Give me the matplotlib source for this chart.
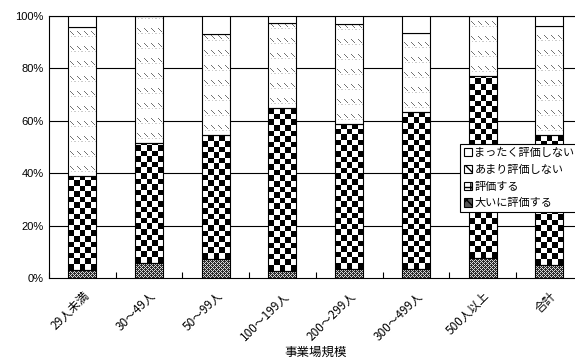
import numpy as np
import matplotlib
matplotlib.use("Agg")
import matplotlib.pyplot as plt
from matplotlib.patches import Patch

plt.rcParams['font.family'] = ['Noto Sans CJK JP', 'DejaVu Sans']

categories = ["29人未満", "30～49人", "50～99人", "100～199人", "200～299人",
              "300～499人", "500人以上", "合計"]
series_names = ["大いに評価する", "評価する", "あまり評価しない", "まったく評価しない"]
v_great = [2.9, 5.7, 7.3, 2.8, 3.4, 3.4, 7.6, 4.8]
v_eval = [36.2, 45.7, 47.3, 62.0, 55.3, 60.0, 69.5, 49.6]
v_little = [56.7, 48.6, 38.6, 32.6, 38.4, 30.0, 22.9, 41.8]
v_none = [4.2, 0.0, 6.8, 2.6, 2.9, 6.6, 0.0, 3.8]
yticks = [0, 20, 40, 60, 80, 100]
ytick_labels = ["0%", "20%", "40%", "60%", "80%", "100%"]

W, H = 575, 364
fig = plt.figure(figsize=(W / 100, H / 100), dpi=100)
ax_left, ax_bottom_px, ax_h_px = 49, 278, 262
n = len(categories)
cat_px = 66.7
ax_w_px = cat_px * n
ax = fig.add_axes([ax_left / W, (H - ax_bottom_px) / H, ax_w_px / W, ax_h_px / H])

x = np.arange(n)
bw = 0.42
px_per_x = cat_px
px_per_y = ax_h_px / 100.0


def texture(kind, wpx, hpx):
    wpx = max(int(np.ceil(wpx)), 1)
    hpx = max(int(np.ceil(hpx)), 1)
    yy, xx = np.indices((hpx, wpx))
    img = np.ones((hpx, wpx, 3))
    if kind == "checker":
        c = 5.6
        v = ((np.floor(xx / c) + np.floor(yy / c)) % 2).astype(float)
        img[:] = v[..., None]
    elif kind == "dash":
        tx = xx % 7
        ty = yy % 15
        dash = (tx + ty == 11) & (tx >= 2) & (tx <= 5)
        dots = (ty == 4) & (tx % 3 == 0)
        g = np.ones((hpx, wpx))
        g[dots] = 0.8
        g[dash] = 0.45
        img[:] = g[..., None]
    elif kind == "cross":
        g = np.full((hpx, wpx), 0.18)
        m = ((xx + yy) % 4 == 0) | ((xx - yy) % 4 == 0)
        g[m] = 0.85
        img[:] = g[..., None]
    return img


bottoms = np.zeros(n)
kinds = ["cross", "checker", "dash", None]
for vals, kind in zip([v_great, v_eval, v_little, v_none], kinds):
    vals = np.array(vals)
    fc = "white" if kind is None else "none"
    bars = ax.bar(x, vals, bw, bottom=bottoms, facecolor=fc, edgecolor="black",
                  linewidth=0.8, zorder=3)
    if kind is not None:
        for xi, b, v, p in zip(x, bottoms, vals, bars.patches):
            if v <= 0:
                continue
            x0, x1 = xi - bw / 2, xi + bw / 2
            img = texture(kind, bw * px_per_x, v * px_per_y)
            im = ax.imshow(img, extent=(x0, x1, b, b + v), origin="lower",
                           interpolation="nearest", aspect="auto", zorder=2)
            im.set_clip_path(p)
    bottoms = bottoms + vals

ax.set_xlim(-0.5, n - 0.5)
ax.set_ylim(0, 100)
ax.set_yticks(yticks)
ax.set_yticklabels(ytick_labels, family=["Liberation Sans"], fontsize=8)
ax.tick_params(axis="y", length=0, pad=4)
for y in yticks[1:]:
    ax.axhline(y, color="black", linewidth=0.8, zorder=0.5)

ax.set_xticks(np.arange(n + 1) - 0.5)
ax.set_xticklabels([])
ax.tick_params(axis="x", which="major", direction="in", length=4, width=0.8)
ax.set_xticks(x, minor=True)
ax.set_xticklabels(categories, minor=True, rotation=45, ha="right",
                   rotation_mode="anchor", fontsize=8.5)
ax.tick_params(axis="x", which="minor", length=0, pad=8)
ax.set_xlabel("事業場規模", fontsize=9, labelpad=2)

for s in ["left", "bottom", "top"]:
    ax.spines[s].set_linewidth(0.8)
ax.spines["right"].set_visible(False)

handles = [
    Patch(facecolor="white", edgecolor="black", linewidth=0.8),
    Patch(facecolor="white", edgecolor="black", hatch="\\\\", linewidth=0.8),
    Patch(facecolor="white", edgecolor="black", hatch="++", linewidth=0.8),
    Patch(facecolor="#555555", edgecolor="black", hatch="xx", linewidth=0.8),
]
labels = ["まったく評価しない", "あまり評価しない", "評価する", "大いに評価する"]
leg = fig.legend(handles, labels, loc="upper left",
                 bbox_to_anchor=(460 / W, 1 - 144 / H),
                 fontsize=8.0, frameon=True, fancybox=False, edgecolor="black",
                 framealpha=1, borderpad=0.35, labelspacing=0.6, handlelength=0.75,
                 handleheight=0.75, handletextpad=0.2, borderaxespad=0)
leg.get_frame().set_linewidth(0.8)

fig.savefig("out.png", dpi=100)
